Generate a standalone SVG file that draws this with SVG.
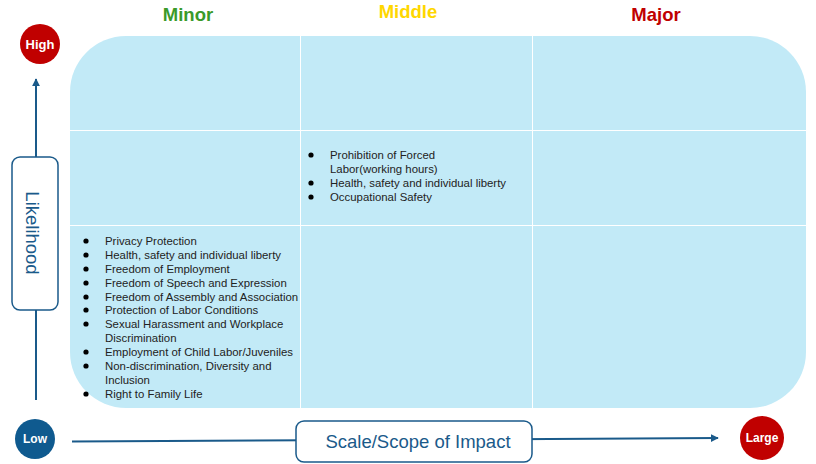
<svg xmlns="http://www.w3.org/2000/svg" width="816" height="464" viewBox="0 0 816 464">
<defs>
<style>
.hdr{font-family:"Liberation Sans",Arial,sans-serif;font-weight:bold;font-size:18.5px;text-anchor:middle}
.item{font-family:"Liberation Sans",Arial,sans-serif;font-size:11.4px;fill:#222}
.circ{font-family:"Liberation Sans",Arial,sans-serif;font-weight:bold;fill:#fff;text-anchor:middle;dominant-baseline:central}
.axis{font-family:"Liberation Sans",Arial,sans-serif;font-size:18.5px;fill:#1a5a8a;text-anchor:middle;dominant-baseline:central}
.grid{stroke:#fff;stroke-width:1}
.conn{stroke:#1a5a8a;stroke-width:2;fill:none}
.box{fill:#fff;stroke:#1a5a8a;stroke-width:1.5}
</style>
<marker id="arr" viewBox="0 0 10 10" refX="9" refY="5" markerWidth="4" markerHeight="4" orient="auto-start-reverse">
<path d="M0,0 L10,5 L0,10 z" fill="#1a5a8a"/>
</marker>
</defs>
<rect width="816" height="464" fill="#fff"/>

<g id="matrix">
<rect x="70" y="36" width="736" height="372" rx="56" ry="56" fill="#c2eaf7"/>
<line class="grid" x1="300.5" y1="36" x2="300.5" y2="408"/>
<line class="grid" x1="532.5" y1="36" x2="532.5" y2="408"/>
<line class="grid" x1="70" y1="130.5" x2="806" y2="130.5"/>
<line class="grid" x1="70" y1="225.5" x2="806" y2="225.5"/>
</g>

<g id="headers">
<text class="hdr" x="188" y="21" fill="#3a9a2a">Minor</text>
<text class="hdr" x="408" y="18" fill="#ffd700">Middle</text>
<text class="hdr" x="656" y="21" fill="#c00000">Major</text>
</g>

<g id="connectors">
<line class="conn" x1="36" y1="400" x2="36" y2="79" marker-end="url(#arr)"/>
<line class="conn" x1="72" y1="441.5" x2="718" y2="438" marker-end="url(#arr)"/>
</g>

<g id="high">
<circle cx="40" cy="44" r="20" fill="#c00000"/>
<text class="circ" x="40" y="44" font-size="13">High</text>
</g>
<g id="low">
<circle cx="35" cy="439" r="20" fill="#0f5a8f"/>
<text class="circ" x="35" y="439" font-size="12">Low</text>
</g>
<g id="large">
<circle cx="762" cy="438" r="22" fill="#c00000"/>
<text class="circ" x="762" y="438" font-size="12">Large</text>
</g>

<g id="likelihood">
<rect class="box" x="12" y="157" width="46" height="153" rx="8"/>
<text class="axis" transform="translate(32,233) rotate(90)" font-size="20">Likelihood</text>
</g>

<g id="scale">
<rect class="box" x="296" y="421" width="236" height="41" rx="8"/>
<text class="axis" x="418" y="441">Scale/Scope of Impact</text>
</g>

<g id="middle-list" class="item">
<circle cx="311" cy="155" r="2.6" fill="#000"/>
<text x="330" y="159">Prohibition of Forced</text>
<text x="330" y="173">Labor(working hours)</text>
<circle cx="311" cy="183" r="2.6" fill="#000"/>
<text x="330" y="187">Health, safety and individual liberty</text>
<circle cx="311" cy="197" r="2.6" fill="#000"/>
<text x="330" y="201">Occupational Safety</text>
</g>

<g id="minor-list" class="item">
<circle cx="86" cy="241" r="2.6" fill="#000"/>
<text x="105" y="245">Privacy Protection</text>
<circle cx="86" cy="255" r="2.6" fill="#000"/>
<text x="105" y="259">Health, safety and individual liberty</text>
<circle cx="86" cy="269" r="2.6" fill="#000"/>
<text x="105" y="273">Freedom of Employment</text>
<circle cx="86" cy="283" r="2.6" fill="#000"/>
<text x="105" y="287">Freedom of Speech and Expression</text>
<circle cx="86" cy="297" r="2.6" fill="#000"/>
<text x="105" y="301">Freedom of Assembly and Association</text>
<circle cx="86" cy="310" r="2.6" fill="#000"/>
<text x="105" y="314">Protection of Labor Conditions</text>
<circle cx="86" cy="324" r="2.6" fill="#000"/>
<text x="105" y="328">Sexual Harassment and Workplace</text>
<text x="105" y="342">Discrimination</text>
<circle cx="86" cy="352" r="2.6" fill="#000"/>
<text x="105" y="356">Employment of Child Labor/Juveniles</text>
<circle cx="86" cy="366" r="2.6" fill="#000"/>
<text x="105" y="370">Non-discrimination, Diversity and</text>
<text x="105" y="384">Inclusion</text>
<circle cx="86" cy="394" r="2.6" fill="#000"/>
<text x="105" y="398">Right to Family Life</text>
</g>
</svg>
